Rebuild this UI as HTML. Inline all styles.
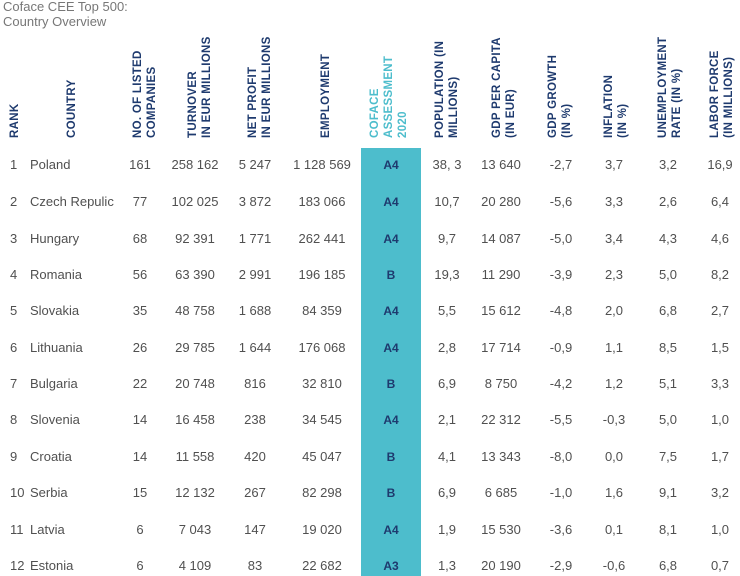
<!DOCTYPE html>
<html><head><meta charset="utf-8"><style>
body{margin:0;width:740px;height:576px;background:#fff;overflow:hidden;position:relative;font-family:"Liberation Sans",sans-serif}
.t{position:absolute;left:3px;top:-1px;font-size:13px;color:#777;line-height:15px}
.teal{position:absolute;left:361px;top:148px;width:60px;height:428px;background:#4dbdcc}
.h{position:absolute;top:18px;height:120px;writing-mode:vertical-rl;transform:rotate(180deg);font-size:11.5px;font-weight:bold;color:#1e3a6e;line-height:14px;text-align:left;white-space:nowrap;letter-spacing:0.3px}
.r{position:absolute;left:0;width:740px;height:16px;font-size:13px;color:#505050;line-height:16px}
.r span{position:absolute;top:0;text-align:center;white-space:nowrap}
.r .a{left:10px;text-align:left}
.r .b{left:30px;text-align:left}
.r .c{left:120px;width:40px}.r .d{left:160px;width:70px}.r .e{left:225px;width:60px}.r .f{left:282px;width:80px}
.r .g{left:361px;width:60px;font-weight:bold;color:#1e3a6e;font-size:12px}
.r .i{left:422px;width:50px}.r .j{left:471px;width:60px}.r .k{left:536px;width:50px}.r .l{left:589px;width:50px}.r .m{left:643px;width:50px}.r .n{left:695px;width:50px}
</style></head><body>
<div class="t">Coface CEE Top 500:<br>Country Overview</div>
<div class="teal"></div>
<div class="h" style="left:8px;width:14px">RANK</div>
<div class="h" style="left:65px;width:14px">COUNTRY</div>
<div class="h" style="left:131px;width:28px">NO. OF LISTED<br>COMPANIES</div>
<div class="h" style="left:186px;width:28px">TURNOVER<br>IN EUR MILLIONS</div>
<div class="h" style="left:246px;width:28px">NET PROFIT<br>IN EUR MILLIONS</div>
<div class="h" style="left:319px;width:14px">EMPLOYMENT</div>
<div class="h" style="left:368px;width:42px;color:#4dbdcc">COFACE<br>ASSESSMENT<br>2020</div>
<div class="h" style="left:433px;width:28px">POPULATION (IN<br>MILLIONS)</div>
<div class="h" style="left:490px;width:28px">GDP PER CAPITA<br>(IN EUR)</div>
<div class="h" style="left:546px;width:28px">GDP GROWTH<br>(IN %)</div>
<div class="h" style="left:602px;width:28px">INFLATION<br>(IN %)</div>
<div class="h" style="left:656px;width:28px">UNEMPLOYMENT<br>RATE (IN %)</div>
<div class="h" style="left:708px;width:28px">LABOR FORCE<br>(IN MILLIONS)</div>

<div class="r" style="top:157px"><span class="a">1</span><span class="b">Poland</span><span class="c">161</span><span class="d">258 162</span><span class="e">5 247</span><span class="f">1 128 569</span><span class="g">A4</span><span class="i">38, 3</span><span class="j">13 640</span><span class="k">-2,7</span><span class="l">3,7</span><span class="m">3,2</span><span class="n">16,9</span></div>
<div class="r" style="top:194px"><span class="a">2</span><span class="b">Czech Repulic</span><span class="c">77</span><span class="d">102 025</span><span class="e">3 872</span><span class="f">183 066</span><span class="g">A4</span><span class="i">10,7</span><span class="j">20 280</span><span class="k">-5,6</span><span class="l">3,3</span><span class="m">2,6</span><span class="n">6,4</span></div>
<div class="r" style="top:231px"><span class="a">3</span><span class="b">Hungary</span><span class="c">68</span><span class="d">92 391</span><span class="e">1 771</span><span class="f">262 441</span><span class="g">A4</span><span class="i">9,7</span><span class="j">14 087</span><span class="k">-5,0</span><span class="l">3,4</span><span class="m">4,3</span><span class="n">4,6</span></div>
<div class="r" style="top:267px"><span class="a">4</span><span class="b">Romania</span><span class="c">56</span><span class="d">63 390</span><span class="e">2 991</span><span class="f">196 185</span><span class="g">B</span><span class="i">19,3</span><span class="j">11 290</span><span class="k">-3,9</span><span class="l">2,3</span><span class="m">5,0</span><span class="n">8,2</span></div>
<div class="r" style="top:303px"><span class="a">5</span><span class="b">Slovakia</span><span class="c">35</span><span class="d">48 758</span><span class="e">1 688</span><span class="f">84 359</span><span class="g">A4</span><span class="i">5,5</span><span class="j">15 612</span><span class="k">-4,8</span><span class="l">2,0</span><span class="m">6,8</span><span class="n">2,7</span></div>
<div class="r" style="top:340px"><span class="a">6</span><span class="b">Lithuania</span><span class="c">26</span><span class="d">29 785</span><span class="e">1 644</span><span class="f">176 068</span><span class="g">A4</span><span class="i">2,8</span><span class="j">17 714</span><span class="k">-0,9</span><span class="l">1,1</span><span class="m">8,5</span><span class="n">1,5</span></div>
<div class="r" style="top:376px"><span class="a">7</span><span class="b">Bulgaria</span><span class="c">22</span><span class="d">20 748</span><span class="e">816</span><span class="f">32 810</span><span class="g">B</span><span class="i">6,9</span><span class="j">8 750</span><span class="k">-4,2</span><span class="l">1,2</span><span class="m">5,1</span><span class="n">3,3</span></div>
<div class="r" style="top:412px"><span class="a">8</span><span class="b">Slovenia</span><span class="c">14</span><span class="d">16 458</span><span class="e">238</span><span class="f">34 545</span><span class="g">A4</span><span class="i">2,1</span><span class="j">22 312</span><span class="k">-5,5</span><span class="l">-0,3</span><span class="m">5,0</span><span class="n">1,0</span></div>
<div class="r" style="top:449px"><span class="a">9</span><span class="b">Croatia</span><span class="c">14</span><span class="d">11 558</span><span class="e">420</span><span class="f">45 047</span><span class="g">B</span><span class="i">4,1</span><span class="j">13 343</span><span class="k">-8,0</span><span class="l">0,0</span><span class="m">7,5</span><span class="n">1,7</span></div>
<div class="r" style="top:485px"><span class="a">10</span><span class="b">Serbia</span><span class="c">15</span><span class="d">12 132</span><span class="e">267</span><span class="f">82 298</span><span class="g">B</span><span class="i">6,9</span><span class="j">6 685</span><span class="k">-1,0</span><span class="l">1,6</span><span class="m">9,1</span><span class="n">3,2</span></div>
<div class="r" style="top:522px"><span class="a">11</span><span class="b">Latvia</span><span class="c">6</span><span class="d">7 043</span><span class="e">147</span><span class="f">19 020</span><span class="g">A4</span><span class="i">1,9</span><span class="j">15 530</span><span class="k">-3,6</span><span class="l">0,1</span><span class="m">8,1</span><span class="n">1,0</span></div>
<div class="r" style="top:558px"><span class="a">12</span><span class="b">Estonia</span><span class="c">6</span><span class="d">4 109</span><span class="e">83</span><span class="f">22 682</span><span class="g">A3</span><span class="i">1,3</span><span class="j">20 190</span><span class="k">-2,9</span><span class="l">-0,6</span><span class="m">6,8</span><span class="n">0,7</span></div>
</body></html>
